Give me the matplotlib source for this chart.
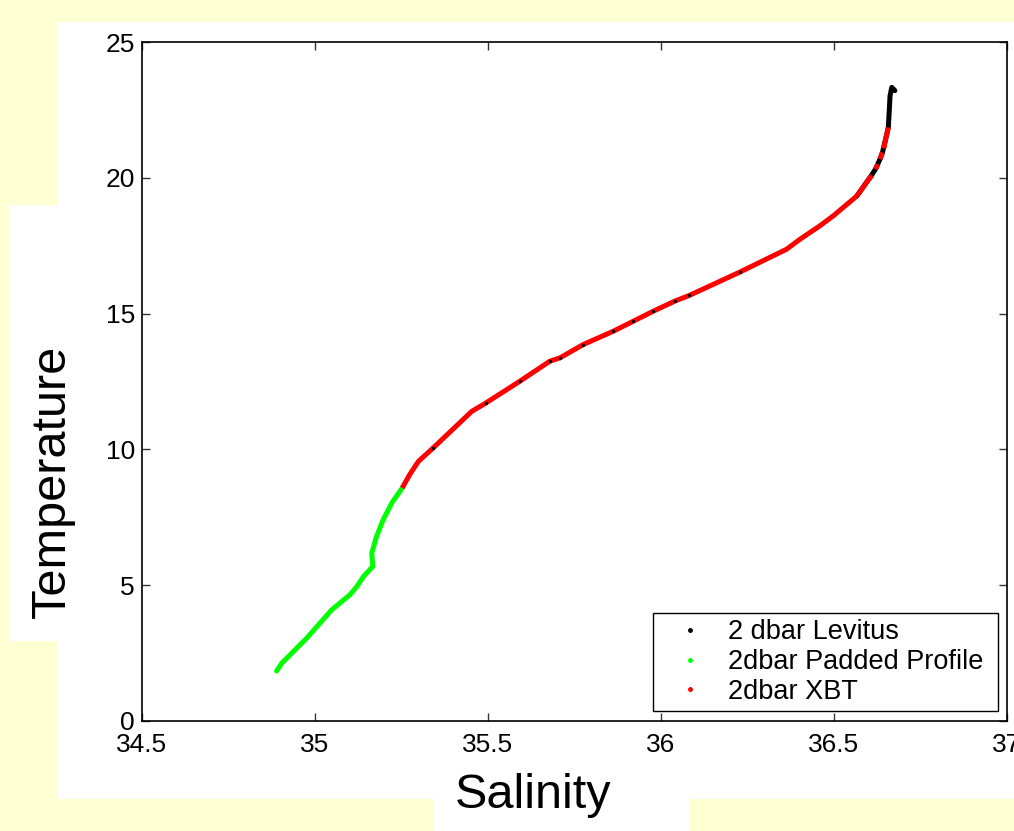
import numpy as np
import matplotlib
matplotlib.use('Agg')
import matplotlib.pyplot as plt
from matplotlib.patches import Rectangle
from matplotlib.lines import Line2D

plt.rcParams['font.family'] = ['Liberation Sans', 'DejaVu Sans']

# 2dbar padded profile (green), deep part
padded_S = [34.889, 34.904, 34.976, 35.048, 35.101, 35.121, 35.140, 35.167,
            35.164, 35.178, 35.197, 35.222, 35.252]
padded_T = [1.84, 2.13, 3.05, 4.09, 4.65, 4.95, 5.32, 5.69,
            6.18, 6.80, 7.41, 8.03, 8.58]

# 2dbar XBT (red), nan = dropouts where the black shows through
xbt_S = [35.252, 35.275, 35.299, 35.342, 35.395, 35.453, 35.494, 35.592,
         35.679, 35.708, 35.775, 35.862, 35.920, 35.978, 36.040, 36.082,
         36.228, 36.363, 36.402, 36.459, 36.498, 36.566, 36.604,
         36.610, np.nan, 36.620, 36.627, np.nan, 36.633, 36.640, np.nan,
         36.644, 36.647, 36.657]
xbt_T = [8.58, 9.10, 9.56, 10.06, 10.70, 11.40, 11.71, 12.51,
         13.25, 13.37, 13.86, 14.35, 14.72, 15.09, 15.46, 15.67,
         16.53, 17.37, 17.74, 18.23, 18.60, 19.33, 20.01,
         20.07, np.nan, 20.32, 20.50, np.nan, 20.69, 20.93, np.nan,
         21.08, 21.30, 21.85]

# 2 dbar Levitus (black), upper part
lev_S = [36.566, 36.604, 36.620, 36.633, 36.640, 36.647, 36.657, 36.660,
         36.662, 36.667, 36.676]
lev_T = [19.33, 20.01, 20.32, 20.69, 20.93, 21.30, 21.85, 22.53,
         23.02, 23.33, 23.21]
# Levitus points peeking through the red line
lev_pts_S = [35.342, 35.494, 35.592, 35.679, 35.708, 35.775, 35.862, 35.920,
             35.978, 36.040, 36.082, 36.228]
lev_pts_T = [10.06, 11.71, 12.51, 13.25, 13.37, 13.86, 14.35, 14.72,
             15.09, 15.46, 15.67, 16.53]

labels = ['2 dbar Levitus', '2dbar Padded Profile', '2dbar XBT']
colors = ['black', '#00FF00', '#FF0000']

W, H = 1014, 831
fig = plt.figure(figsize=(W / 100, H / 100), dpi=100, facecolor='#FFFFD4')

def px_box(x0, y0, x1, y1, **kw):
    # box given in pixel coordinates (origin top-left)
    return Rectangle((x0 / W, 1 - y1 / H), (x1 - x0) / W, (y1 - y0) / H,
                     transform=fig.transFigure, **kw)

# white patches of the slide
for box in [(58, 22, W + 2, 799), (10, 205, 58, 641), (434, 799, 689, H + 2)]:
    fig.patches.append(px_box(*box, facecolor='white', edgecolor='none', zorder=-10))

ax = fig.add_axes([142 / W, 1 - 721 / H, 865 / W, 679 / H])
ax.set_zorder(1)
ax.set_facecolor('white')

lw = 3.6
ax.plot(lev_S, lev_T, color='black', lw=lw, solid_capstyle='round',
        solid_joinstyle='round', zorder=2)
ax.plot(padded_S, padded_T, color='#00FF00', lw=lw, solid_capstyle='round',
        solid_joinstyle='round', zorder=3)
ax.plot(xbt_S, xbt_T, color='#FF0000', lw=lw, solid_capstyle='butt',
        solid_joinstyle='round', zorder=4)
ax.plot(lev_pts_S, lev_pts_T, linestyle='none', marker='o', ms=2.4,
        color='black', mec='none', zorder=5)

ax.set_xlim(34.5, 37)
ax.set_ylim(0, 25)
ax.set_xticks(np.arange(34.5, 37.01, 0.5))
ax.set_xticklabels(['34.5', '35', '35.5', '36', '36.5', '37'])
ax.set_yticks(np.arange(0, 26, 5))
ax.tick_params(direction='in', length=6, width=1, colors='#333333',
               labelcolor='black', labelsize=19, top=True, right=True)
ax.tick_params(axis='x', pad=9)
ax.tick_params(axis='y', pad=5)
for sp in ax.spines.values():
    sp.set_linewidth(1.2)
    sp.set_color('black')

# legend: frame drawn separately so the padding matches the original
frame = px_box(653, 613, 998, 711, facecolor='white', edgecolor='black',
               lw=1.0, zorder=6)
frame.set_clip_on(False)
ax.add_patch(frame)
handles = [Line2D([], [], linestyle='none', marker='.', ms=5, color=c)
           for c in colors]
leg = ax.legend(handles, labels, loc='center left',
                bbox_to_anchor=(676.5 / W, 1 - 662 / H),
                bbox_transform=fig.transFigure, fontsize=19.5, frameon=False,
                borderpad=0, borderaxespad=0, labelspacing=0.14,
                handlelength=1.0, handletextpad=0.9)
leg.set_zorder(7)

fig.text(533 / W, 1 - 796 / H, 'Salinity', fontsize=35, ha='center', va='center')
fig.text(52 / W, 1 - 481 / H, 'Temperature', fontsize=35, rotation=90,
         ha='center', va='center')

fig.savefig('out.png', dpi=100, facecolor=fig.get_facecolor())
